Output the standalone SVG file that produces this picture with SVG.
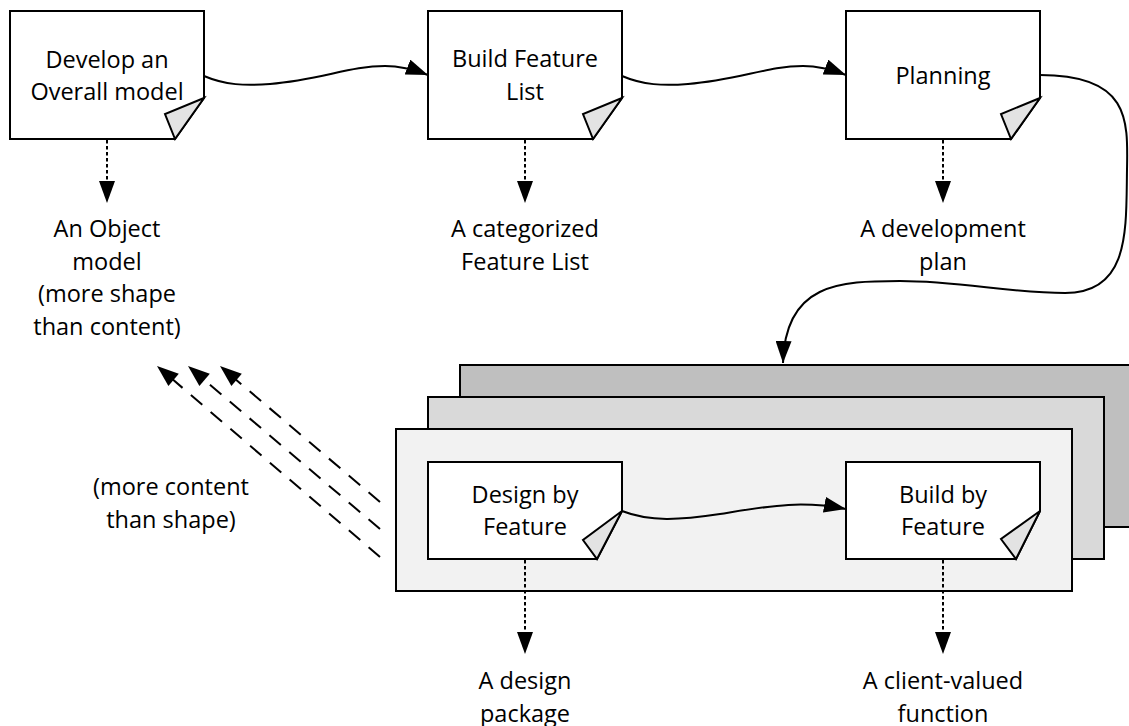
<svg xmlns="http://www.w3.org/2000/svg" width="1129" height="726" viewBox="0 0 1129 726">
  <style>
    .box { fill: #ffffff; stroke: #000000; stroke-width: 2; stroke-linejoin: miter; }
    .fold { fill: #e3e3e3; stroke: #000000; stroke-width: 2; stroke-linejoin: miter; }
    .sheet { stroke: #000000; stroke-width: 2; }
    .lbl { font-family: "Open Sans", "Noto Sans", "Liberation Sans", sans-serif; font-size: 23.5px; fill: #000000; text-anchor: middle; }
    .flow { fill: none; stroke: #000000; stroke-width: 2; marker-end: url(#head); }
    .dot { fill: none; stroke: #000000; stroke-width: 2; stroke-dasharray: 3.5 2.5; }
    .dash { fill: none; stroke: #000000; stroke-width: 2; stroke-dasharray: 15 11; }
    .tip { fill: #000000; stroke: none; }
  </style>
  <defs>
    <marker id="head" markerUnits="userSpaceOnUse" markerWidth="22" markerHeight="16" refX="22" refY="8" orient="auto">
      <path d="M0,0 L22,8 L0,16 Z" fill="#000000"/>
    </marker>
  </defs>

  <rect width="1129" height="726" fill="#ffffff"/>

  <!-- stacked iteration sheets -->
  <g id="iteration-stack">
    <rect class="sheet" x="460" y="365" width="676" height="162" fill="#bfbfbf"/>
    <rect class="sheet" x="428" y="397" width="676" height="162" fill="#d9d9d9"/>
    <rect class="sheet" x="396" y="429" width="676" height="162" fill="#f2f2f2"/>
  </g>

  <!-- process steps -->
  <g id="develop-model">
    <path class="box" d="M10,11 H204 V98 L175,139 H10 Z"/>
    <polygon class="fold" points="204,98 165,114 175,139"/>
    <text class="lbl" x="107" y="68">Develop an</text>
    <text class="lbl" x="107" y="100">Overall model</text>
  </g>

  <g id="build-feature-list">
    <path class="box" d="M428,11 H622 V98 L593,139 H428 Z"/>
    <polygon class="fold" points="622,98 583,114 593,139"/>
    <text class="lbl" x="525" y="67">Build Feature</text>
    <text class="lbl" x="525" y="100">List</text>
  </g>

  <g id="planning">
    <path class="box" d="M846,11 H1040 V98 L1011,139 H846 Z"/>
    <polygon class="fold" points="1040,98 1001,114 1011,139"/>
    <text class="lbl" x="943" y="84">Planning</text>
  </g>

  <g id="design-by-feature">
    <path class="box" d="M428,462 H622 V511 L597,559 H428 Z"/>
    <polygon class="fold" points="622,511 583,540 597,559"/>
    <text class="lbl" x="525" y="503">Design by</text>
    <text class="lbl" x="525" y="535">Feature</text>
  </g>

  <g id="build-by-feature">
    <path class="box" d="M846,462 H1040 V511 L1016,559 H846 Z"/>
    <polygon class="fold" points="1040,511 1001,539 1016,559"/>
    <text class="lbl" x="943" y="503">Build by</text>
    <text class="lbl" x="943" y="535">Feature</text>
  </g>

  <!-- deliverables -->
  <g id="object-model">
    <text class="lbl" x="107" y="237">An Object</text>
    <text class="lbl" x="107" y="269.5">model</text>
    <text class="lbl" x="107" y="302">(more shape</text>
    <text class="lbl" x="107" y="334.5">than content)</text>
  </g>
  <g id="feature-list">
    <text class="lbl" x="525" y="237">A categorized</text>
    <text class="lbl" x="525" y="269.5">Feature List</text>
  </g>
  <g id="development-plan">
    <text class="lbl" x="943" y="237">A development</text>
    <text class="lbl" x="943" y="269.5">plan</text>
  </g>
  <g id="design-package">
    <text class="lbl" x="525" y="689">A design</text>
    <text class="lbl" x="525" y="722">package</text>
  </g>
  <g id="client-function">
    <text class="lbl" x="943" y="689">A client-valued</text>
    <text class="lbl" x="943" y="722">function</text>
  </g>
  <g id="feedback-note">
    <text class="lbl" x="171" y="495">(more content</text>
    <text class="lbl" x="171" y="528">than shape)</text>
  </g>

  <!-- connectors -->
  <g id="connectors">
    <path class="flow" d="M204,76 C225,85 245,86 270,84 C320,80 350,66 385,66 C400,66 415,70 428,75"/>
    <path class="flow" d="M622,76 C643,85 663,86 688,84 C738,80 768,66 803,66 C818,66 833,70 846,75"/>
    <path class="flow" d="M1040,75 C1130,75 1128,120 1127,170 C1126,230 1130,293 1065,293 C1010,293 960,281 900,281 C840,281 785,283 783,363"/>
    <path class="flow" d="M622,511 C650,522 680,520 720,514 C770,506 800,500 846,509"/>

    <!-- dotted outputs -->
    <line class="dot" x1="107" y1="140" x2="107" y2="182"/>
    <polygon class="tip" points="99,181 115,181 107,203"/>
    <line class="dot" x1="525" y1="140" x2="525" y2="182"/>
    <polygon class="tip" points="517,181 533,181 525,203"/>
    <line class="dot" x1="943" y1="140" x2="943" y2="182"/>
    <polygon class="tip" points="935,181 951,181 943,203"/>
    <line class="dot" x1="525" y1="560" x2="525" y2="633"/>
    <polygon class="tip" points="517,632 533,632 525,654"/>
    <line class="dot" x1="943" y1="560" x2="943" y2="633"/>
    <polygon class="tip" points="935,632 951,632 943,654"/>

    <!-- dashed feedback to the object model -->
    <path class="dash" d="M380,502 L234,378"/>
    <polygon class="tip" points="220,366 241.8,373.7 231.4,385.9"/>
    <path class="dash" d="M380,529 L202,378"/>
    <polygon class="tip" points="188,366 209.8,373.7 199.4,385.9"/>
    <path class="dash" d="M380,557 L171,378"/>
    <polygon class="tip" points="157,366 178.8,373.7 168.4,385.9"/>
  </g>
</svg>
